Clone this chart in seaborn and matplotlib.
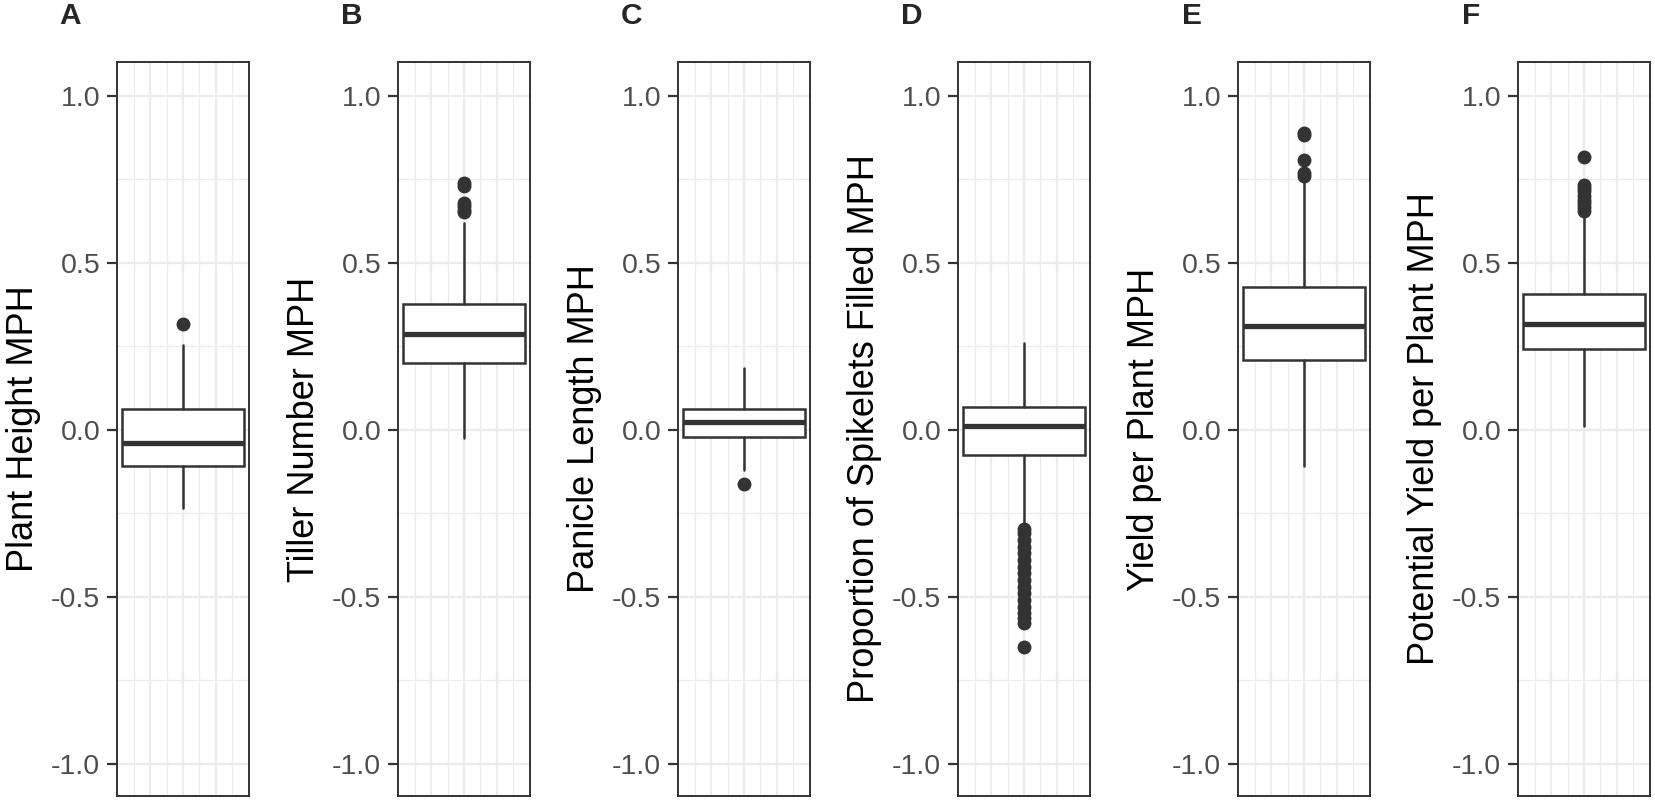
import numpy as np
import matplotlib
matplotlib.use("Agg")
import matplotlib.pyplot as plt
import seaborn as sns

# valori (MPH)
panel_letters = ["A", "B", "C", "D", "E", "F"]
y_titles = ["Plant Height MPH", "Tiller Number MPH", "Panicle Length MPH",
            "Proportion of Spikelets Filled MPH", "Yield per Plant MPH",
            "Potential Yield per Plant MPH"]
whisk_lo = [-0.234, -0.023, -0.120, -0.278, -0.108, 0.010]
box_q1 = [-0.108, 0.200, -0.022, -0.075, 0.210, 0.242]
box_med = [-0.040, 0.287, 0.022, 0.010, 0.310, 0.316]
box_q3 = [0.062, 0.376, 0.062, 0.068, 0.428, 0.407]
whisk_hi = [0.254, 0.619, 0.185, 0.260, 0.745, 0.640]

outliers_A = [0.317]
outliers_B = [0.738, 0.731, 0.681, 0.670, 0.660, 0.653]
outliers_C = [-0.163]
outliers_D = [-0.296, -0.31, -0.33, -0.35, -0.37, -0.39, -0.41, -0.43, -0.45,
              -0.47, -0.49, -0.51, -0.53, -0.55, -0.565, -0.58, -0.651]
outliers_E = [0.890, 0.883, 0.807, 0.768, 0.760]
outliers_F = [0.818, 0.735, 0.725, 0.715, 0.700, 0.690, 0.680, 0.668, 0.656]
outliers = [outliers_A, outliers_B, outliers_C, outliers_D, outliers_E, outliers_F]

y_major = [-1.0, -0.5, 0.0, 0.5, 1.0]
y_minor = [-0.75, -0.25, 0.25, 0.75]
x_major = [-0.2, 0.0, 0.2]
x_minor = [-0.3, -0.1, 0.1, 0.3]

sns.set_theme(style="white")
plt.rcParams["font.family"] = ["Liberation Sans", "DejaVu Sans"]

W, H = 1655, 801
fig = plt.figure(figsize=(W / 100, H / 100), dpi=100)

panel_left = [117, 398, 678, 958, 1238, 1518]
panel_w = 132
panel_top, panel_bot = 62, 796
dark = "#333333"

for i in range(6):
    ax = fig.add_axes([panel_left[i] / W, 1 - panel_bot / H,
                       panel_w / W, (panel_bot - panel_top) / H])
    ax.set_facecolor("white")

    # griglia stile theme_bw
    for y in y_major:
        ax.axhline(y, color="#EBEBEB", lw=1.6, zorder=0)
    for y in y_minor:
        ax.axhline(y, color="#EBEBEB", lw=0.9, zorder=0)
    for x in x_major:
        ax.axvline(x, color="#EBEBEB", lw=1.6, zorder=0)
    for x in x_minor:
        ax.axvline(x, color="#EBEBEB", lw=0.9, zorder=0)

    stats = [{
        "whislo": whisk_lo[i], "q1": box_q1[i], "med": box_med[i],
        "q3": box_q3[i], "whishi": whisk_hi[i], "fliers": outliers[i],
    }]
    ax.bxp(stats, positions=[0], widths=0.75, patch_artist=True,
           showcaps=False,
           boxprops=dict(facecolor="white", edgecolor=dark, linewidth=1.8),
           medianprops=dict(color=dark, linewidth=3.8, solid_capstyle="butt"),
           whiskerprops=dict(color=dark, linewidth=1.8),
           flierprops=dict(marker="o", markerfacecolor=dark, markeredgecolor=dark,
                           markersize=9, linestyle="none"),
           zorder=3)

    ax.set_xlim(-0.405, 0.405)
    ax.set_ylim(-1.097, 1.102)
    ax.set_xticks([])
    ax.set_yticks(y_major)
    ax.set_yticklabels([f"{v:.1f}" for v in y_major])
    ax.tick_params(axis="y", which="major", length=7, width=1.6, color=dark,
                   labelsize=20.5, labelcolor="#4D4D4D", pad=5, left=True)
    for s in ax.spines.values():
        s.set_color(dark)
        s.set_linewidth(1.4)

    ax.set_ylabel(y_titles[i], fontsize=26, color="black", va="baseline")
    ax.yaxis.set_label_coords(-84 / panel_w, 0.5)

    fig.text((panel_left[i] - 46.5) / W, 1 - 15.5 / H, panel_letters[i],
             fontsize=21.5, fontweight="bold", ha="center", va="center")

fig.savefig("out.png", dpi=100)
